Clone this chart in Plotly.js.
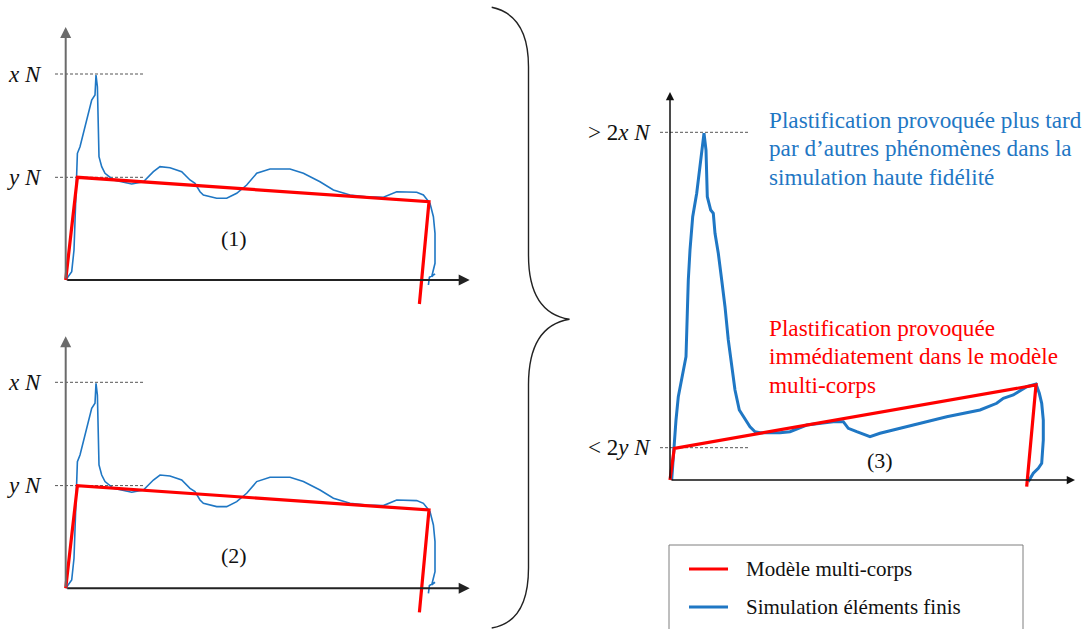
<!DOCTYPE html>
<html>
<head>
<meta charset="utf-8">
<script src="https://cdn.plot.ly/plotly-3.0.1.min.js"></script>
<style>html,body{margin:0;padding:0;background:#fff;}#chart{width:1088px;height:629px;}</style>
</head>
<body>
<div id="chart"></div>
<script>
// ---------- DATA (displacement / force, arbitrary units) ----------
// Panels (1) and (2): same curves
const femDispA = [0,6,8.3,10.3,11.7,14.3,17.7,21.7,26,29.3,30.3,31.7,33.3,36,39.3,47.7,54.3,66,77.7,87.7,94.3,104.3,116,124.3,129.3,134.3,137.7,151,161,171,181,191,204.3,224.3,237.7,254.3,267.7,284.3,301,317.7,331,351,357.7,364.3,367.7,369.3,369.3,367.7,366,369.3,363.7,362.7];
const femForceA = [0,8.3,30,80,126.7,133.3,146.7,163.3,180,185,205,193.3,123.3,113.3,106.7,100,98.3,96,98.3,108.3,113.3,112.3,108.3,100,96.7,88.3,85,81.7,81.7,86.7,95,106.7,111,111,106.7,98.3,90,85,83.3,82.7,88.3,87.7,85,76.7,63.3,46.7,16.7,10,3.3,6,2.7,-5];
const mbDispA = [0,11.7,363.3,353.7];
const mbForceA = [0,102.7,78.3,-24];
const levelsA = [206,102.7];
const levelLabelsA = ['<i>x N</i>','<i>y N</i>'];

// Panel (3)
const femDispB = [1.7,4,6,8.3,11.7,16,17.3,18.3,20,22.7,26.7,28.3,30,31.7,34,36,37.3,40.7,43.3,45,48.3,51.7,55,58.3,61.7,65,69.3,73.3,80,85,90,110,120,136.7,150,163.3,173.3,178.3,186.7,200,210,243.3,276.7,310,326.7,333.3,343.3,356.7,366,369.3,371.7,373.3,373.3,371.7,368.3,363.3,360,358.3];
const femForceB = [0,33.3,60,83.3,100,123.3,166.7,200,230,263.3,286.7,300,316.7,328.3,346.7,330,283.3,270,266.7,246.7,226.7,200,173.3,140,113.3,90,70,63.3,53.3,48.3,47.3,47.3,48.3,55,56.7,58.3,58.3,51.7,48.3,43.3,46.7,55,63.3,70,76.7,81.7,85,93.3,96,86.7,76.7,60,40,16.7,11.7,6.7,1.7,-1.7];
const mbDispB = [0,4.3,366,356.7];
const mbForceB = [0,31.7,95,-6.7];
const levelsB = [347.7,32.3];
const levelLabelsB = ['&gt; 2<i>x N</i>','&lt; 2<i>y N</i>'];

const seriesNames = ['Modèle multi-corps','Simulation éléments finis'];
const panelLabels = ['(1)','(2)','(3)'];
const noteBlue = ['Plastification provoquée plus tard','par d’autres phénomènes dans la','simulation haute fidélité'];
const noteRed = ['Plastification provoquée','immédiatement dans le modèle','multi-corps'];

// ---------- LAYOUT HELPERS ----------
const W = 1088, H = 629;
const RED = '#ff0000', BLUE = '#1f77c4';
const SERIF = 'Liberation Serif';
// pixel origin of each panel (1 data unit = 1 px)
const origins = [[65.7,280],[65.7,588.3],[670,480]];
const px = x => x / W, py = y => 1 - y / H;

const traces = [];
const panels = [
  {ax:'x',ay:'y',fx:femDispA,fy:femForceA,mx:mbDispA,my:mbForceA,bw:1.6},
  {ax:'x2',ay:'y2',fx:femDispA,fy:femForceA,mx:mbDispA,my:mbForceA,bw:1.6},
  {ax:'x3',ay:'y3',fx:femDispB,fy:femForceB,mx:mbDispB,my:mbForceB,bw:3}
];
panels.forEach(p => {
  traces.push({x:p.fx,y:p.fy,xaxis:p.ax,yaxis:p.ay,mode:'lines',name:seriesNames[1],
    line:{color:BLUE,width:p.bw},showlegend:false,hoverinfo:'skip'});
  traces.push({x:p.mx,y:p.my,xaxis:p.ax,yaxis:p.ay,mode:'lines',name:seriesNames[0],
    line:{color:RED,width:3.2},showlegend:false,hoverinfo:'skip'});
});

const layout = {
  width:W,height:H,margin:{l:0,r:0,t:0,b:0},
  paper_bgcolor:'#ffffff',plot_bgcolor:'rgba(0,0,0,0)',
  font:{family:SERIF},
  showlegend:false,
  shapes:[],annotations:[]
};
origins.forEach((o,i) => {
  const s = i === 0 ? '' : String(i+1);
  layout['xaxis'+s] = {domain:[0,1],range:[-o[0],W-o[0]],visible:false,fixedrange:true,anchor:'y'+s};
  layout['yaxis'+s] = {domain:[0,1],range:[o[1]-H,o[1]],visible:false,fixedrange:true,anchor:'x'+s};
});

// axes with arrows
const axisSpecs = [
  {s:'',yTop:253,xEnd:404,ycol:'#6b6b6b',xcol:'#222',w:2},
  {s:'2',yTop:252,xEnd:404,ycol:'#6b6b6b',xcol:'#222',w:2},
  {s:'3',yTop:388,xEnd:405,ycol:'#111',xcol:'#111',w:1.5}
];
axisSpecs.forEach(a => {
  const xr = 'x'+a.s, yr = 'y'+a.s;
  layout.annotations.push({xref:xr,yref:yr,axref:xr,ayref:yr,x:0,y:a.yTop,ax:0,ay:0,text:'',
    showarrow:true,arrowhead:2,arrowsize:1.1,arrowwidth:a.w,arrowcolor:a.ycol,standoff:0,startstandoff:0});
  layout.annotations.push({xref:xr,yref:yr,axref:xr,ayref:yr,x:a.xEnd,y:0,ax:0,ay:0,text:'',
    showarrow:true,arrowhead:2,arrowsize:1.1,arrowwidth:a.w,arrowcolor:a.xcol,standoff:0,startstandoff:0});
});

// reference levels (dashed) + labels
const levelSets = [
  {s:'',lv:levelsA,lb:levelLabelsA,x0:-10.7,x1:78.3,lx:-22},
  {s:'2',lv:levelsA,lb:levelLabelsA,x0:-10.7,x1:78.3,lx:-22},
  {s:'3',lv:levelsB,lb:levelLabelsB,x0:-10,x1:78.3,lx:-17}
];
levelSets.forEach(L => {
  L.lv.forEach((v,k) => {
    layout.shapes.push({type:'line',xref:'x'+L.s,yref:'y'+L.s,x0:L.x0,x1:L.x1,y0:v,y1:v,
      line:{color:'#555',width:1,dash:'3px,2px'},layer:'below'});
    layout.annotations.push({xref:'x'+L.s,yref:'y'+L.s,x:L.lx,y:v,text:L.lb[k],showarrow:false,
      xanchor:'right',yanchor:'middle',font:{family:SERIF,size:23,color:'#111'}});
  });
});

// panel numbers
const numPos = [['',167.8,42],['2',167.8,33.3],['3',210,20]];
numPos.forEach((n,i) => {
  layout.annotations.push({xref:'x'+n[0],yref:'y'+n[0],x:n[1],y:n[2],text:panelLabels[i],showarrow:false,
    xanchor:'center',yanchor:'middle',font:{family:SERIF,size:22,color:'#111'}});
});

// explanatory texts (one annotation per line to match line spacing)
const addNote = (lines, yStart, color) => lines.forEach((t,k) => {
  layout.annotations.push({xref:'paper',yref:'paper',x:px(767),y:py(yStart + 28.3*k),xanchor:'left',yanchor:'middle',
    showarrow:false,text:t,font:{family:SERIF,size:23.2,color:color}});
});
addNote(noteBlue, 120, BLUE);
addNote(noteRed, 328, RED);

// curly brace
const bp = [[491.7,7.3],[528.5,15],[528.5,66.7],[528.5,255],[528.5,313],[569.5,319.3],[528.5,326],[528.5,385],[528.5,568],[528.5,622],[491.7,628]];
const P = i => px(bp[i][0]).toFixed(5)+','+py(bp[i][1]).toFixed(5);
layout.shapes.push({type:'path',xref:'paper',yref:'paper',
  path:'M'+P(0)+' Q'+P(1)+' '+P(2)+' L'+P(3)+' Q'+P(4)+' '+P(5)+' Q'+P(6)+' '+P(7)+' L'+P(8)+' Q'+P(9)+' '+P(10),
  line:{color:'#222',width:1.4}});

// manual legend
layout.shapes.push({type:'rect',xref:'paper',yref:'paper',x0:px(669),x1:px(1023),y0:py(545),y1:py(640),
  line:{color:'#7f7f7f',width:1},fillcolor:'rgba(0,0,0,0)'});
[[RED,569],[BLUE,607]].forEach((e,i) => {
  layout.shapes.push({type:'line',xref:'paper',yref:'paper',x0:px(689),x1:px(728),y0:py(e[1]),y1:py(e[1]),
    line:{color:e[0],width:3}});
  layout.annotations.push({xref:'paper',yref:'paper',x:px(744),y:py(e[1]),xanchor:'left',yanchor:'middle',
    showarrow:false,text:seriesNames[i],font:{family:SERIF,size:21,color:'#111'}});
});

Plotly.newPlot('chart',traces,layout,{staticPlot:true,displayModeBar:false});
</script>
</body>
</html>
